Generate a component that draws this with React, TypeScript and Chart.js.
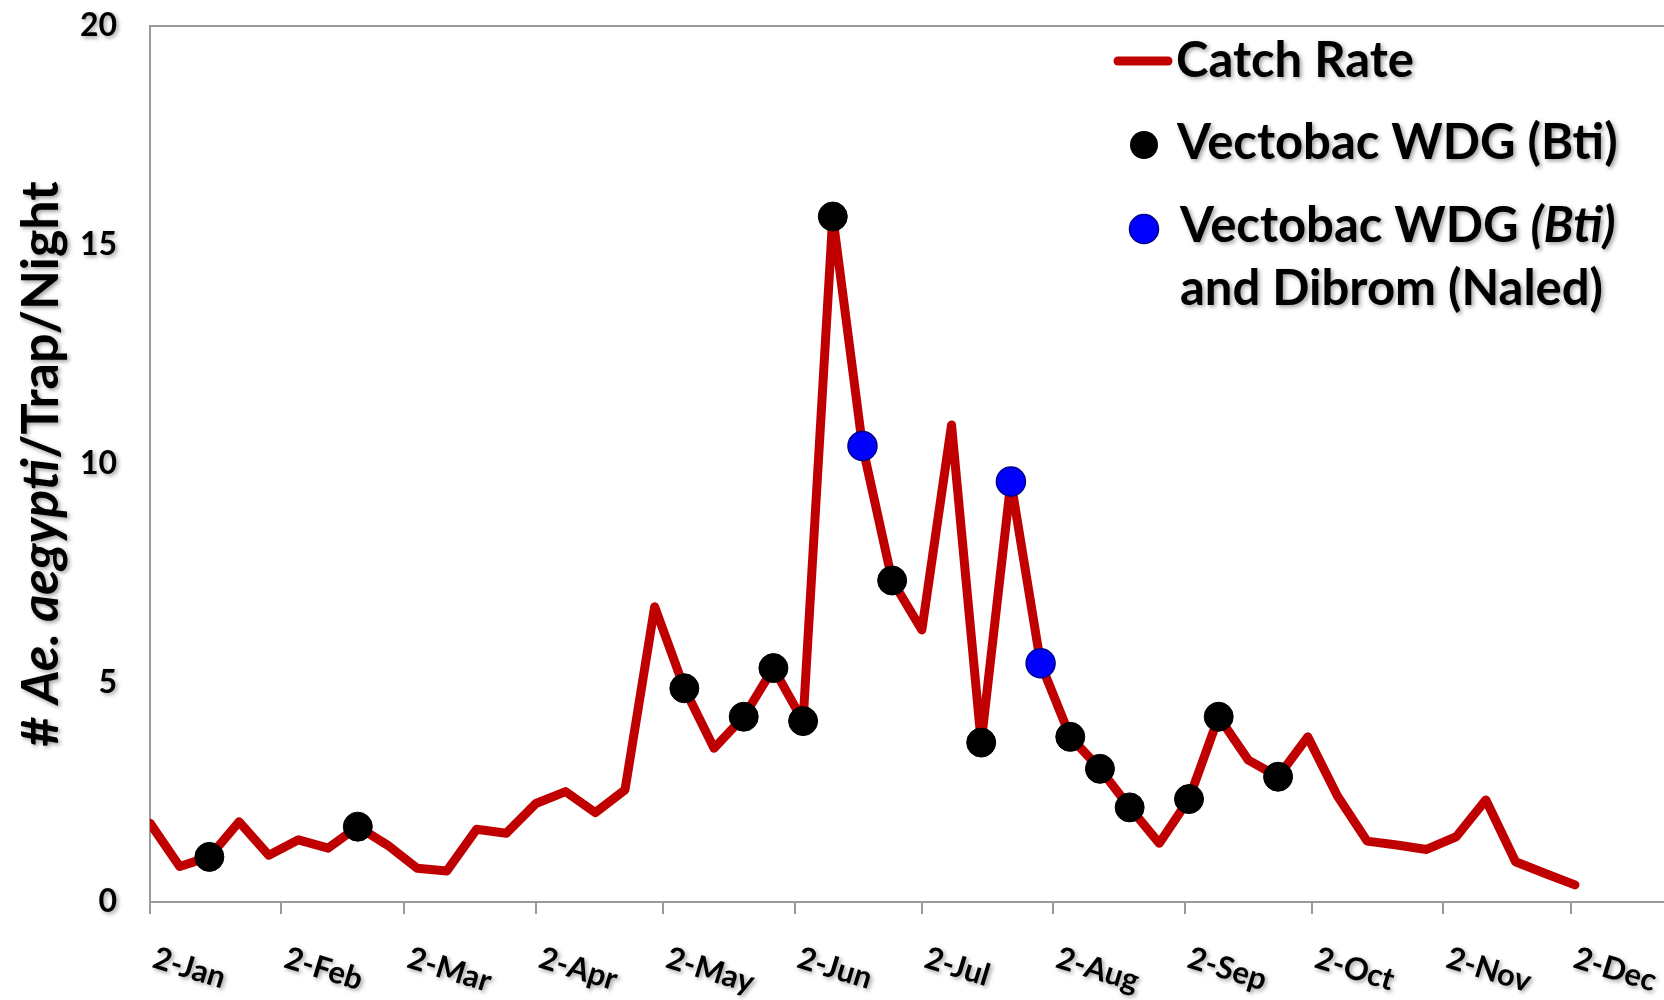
import React, { useEffect, useRef } from 'react';
import { Chart, registerables } from 'chart.js';

Chart.register(...registerables);

// ---------------- data ----------------
const YEAR = 2016;
const axisStartDate = '01-02';
const axisEndDate = '12-24';

const sampleDates = [
  '01-02', '01-09', '01-16', '01-23', '01-30',
  '02-06', '02-13', '02-20', '02-27',
  '03-05', '03-12', '03-19', '03-26',
  '04-02', '04-09', '04-16', '04-23', '04-30',
  '05-07', '05-14', '05-21', '05-28',
  '06-04', '06-11', '06-18', '06-25',
  '07-02', '07-09', '07-16', '07-23', '07-30',
  '08-06', '08-13', '08-20', '08-27',
  '09-03', '09-10', '09-17', '09-24',
  '10-01', '10-08', '10-15', '10-22', '10-29',
  '11-05', '11-12', '11-19', '11-26',
  '12-03',
];

const catchRate = [
  1.80, 0.81, 1.03, 1.83, 1.07,
  1.42, 1.23, 1.72, 1.30,
  0.77, 0.71, 1.66, 1.57,
  2.25, 2.52, 2.04, 2.56, 6.74,
  4.88, 3.51, 4.23, 5.34,
  4.13, 15.65, 10.41, 7.34,
  6.21, 10.89, 3.64, 9.60, 5.45,
  3.77, 3.04, 2.16, 1.34,
  2.35, 4.23, 3.24, 2.86,
  3.77, 2.42, 1.39, 1.30, 1.20,
  1.49, 2.33, 0.92, 0.65,
  0.39,
];

// treatment dates (markers sit on the catch-rate line)
const btiDates = [
  '01-16', '02-20', '05-07', '05-21', '05-28', '06-04', '06-11', '06-25',
  '07-16', '08-06', '08-13', '08-20', '09-03', '09-10', '09-24',
];
const btiNaledDates = ['06-18', '07-23', '07-30'];

const monthTickDates = [
  '01-02', '02-02', '03-02', '04-02', '05-02', '06-02',
  '07-02', '08-02', '09-02', '10-02', '11-02', '12-02',
];
const monthTickLabels = [
  '2-Jan', '2-Feb', '2-Mar', '2-Apr', '2-May', '2-Jun',
  '2-Jul', '2-Aug', '2-Sep', '2-Oct', '2-Nov', '2-Dec',
];

const yMin = 0;
const yMax = 20;
const yStep = 5;

const seriesNames = {
  line: 'Catch Rate',
  bti: 'Vectobac WDG (Bti)',
  both: 'Vectobac WDG (Bti) and Dibrom (Naled)',
};

// ---------------- helpers ----------------
function dayOffset(mmdd: string): number {
  const [m, d] = mmdd.split('-').map(Number);
  const [m0, d0] = axisStartDate.split('-').map(Number);
  return (Date.UTC(YEAR, m - 1, d) - Date.UTC(YEAR, m0 - 1, d0)) / 86400000;
}

function valueAt(mmdd: string): number {
  return catchRate[sampleDates.indexOf(mmdd)];
}

const RED = '#C00000';
const BLUE = '#0000FF';
const AXIS_GRAY = '#9A9A9A';
const FONT = 'Lato';

type Run = { text: string; italic?: boolean };

function runsWidth(ctx: CanvasRenderingContext2D, runs: Run[], size: number) {
  let w = 0;
  for (const r of runs) {
    ctx.font = `${r.italic ? 'italic ' : ''}bold ${size}px ${FONT}`;
    w += ctx.measureText(r.text).width;
  }
  return w;
}

function drawRuns(ctx: CanvasRenderingContext2D, runs: Run[], x: number, y: number, size: number) {
  let cx = x;
  ctx.textAlign = 'left';
  ctx.textBaseline = 'alphabetic';
  for (const r of runs) {
    ctx.font = `${r.italic ? 'italic ' : ''}bold ${size}px ${FONT}`;
    ctx.fillText(r.text, cx, y);
    cx += ctx.measureText(r.text).width;
  }
}

function setShadow(ctx: CanvasRenderingContext2D, on: boolean) {
  if (on) {
    ctx.shadowColor = 'rgba(0,0,0,0.38)';
    ctx.shadowBlur = 4;
    ctx.shadowOffsetX = 2;
    ctx.shadowOffsetY = 2;
  } else {
    ctx.shadowColor = 'rgba(0,0,0,0)';
    ctx.shadowBlur = 0;
    ctx.shadowOffsetX = 0;
    ctx.shadowOffsetY = 0;
  }
}

const decorPlugin = {
  id: 'decor',
  afterDatasetsDraw(chart: any) {
    const ctx = chart.ctx as CanvasRenderingContext2D;
    ctx.save();
    setShadow(ctx, true);
  },
  afterDraw(chart: any) {
    const ctx = chart.ctx as CanvasRenderingContext2D;
    const xs = chart.scales.x;
    const area = chart.chartArea;
    ctx.fillStyle = '#000';

    // x tick labels, slanted downward starting at each tick
    const xFont = 31;
    monthTickDates.forEach((d, i) => {
      const px = xs.getPixelForValue(dayOffset(d));
      ctx.save();
      ctx.translate(px + 1, area.bottom + 65);
      ctx.rotate((17 * Math.PI) / 180);
      ctx.font = `bold ${xFont}px ${FONT}`;
      ctx.textAlign = 'left';
      ctx.textBaseline = 'alphabetic';
      ctx.fillText(monthTickLabels[i], 0, 0);
      ctx.restore();
    });

    // y axis title with italic species name
    const titleRuns: Run[] = [
      { text: '# ' },
      { text: 'Ae. aegypti', italic: true },
      { text: '/Trap/Night' },
    ];
    const tSize = 52;
    const tw = runsWidth(ctx, titleRuns, tSize);
    ctx.save();
    ctx.translate(58, (area.top + area.bottom) / 2);
    ctx.rotate(-Math.PI / 2);
    drawRuns(ctx, titleRuns, -tw / 2, 0, tSize);
    ctx.restore();

    // legend
    const lSize = 49;
    const lx = 1176;
    drawRuns(ctx, [{ text: seriesNames.line }], lx, 77, lSize);
    drawRuns(ctx, [{ text: 'Vectobac WDG (Bti)' }], lx + 1, 159, lSize);
    drawRuns(ctx, [{ text: 'Vectobac WDG ' }, { text: '(Bti)', italic: true }], lx + 4, 242, lSize);
    drawRuns(ctx, [{ text: 'and Dibrom (Naled)' }], lx + 4, 305, lSize);

    setShadow(ctx, false);
    ctx.lineCap = 'round';
    ctx.strokeStyle = RED;
    ctx.lineWidth = 9;
    ctx.beginPath();
    ctx.moveTo(1118, 61);
    ctx.lineTo(1168, 61);
    ctx.stroke();

    ctx.fillStyle = '#000';
    ctx.beginPath();
    ctx.arc(1144, 145, 14, 0, Math.PI * 2);
    ctx.fill();

    ctx.fillStyle = BLUE;
    ctx.strokeStyle = '#00008B';
    ctx.lineWidth = 1.5;
    ctx.beginPath();
    ctx.arc(1144, 229, 14.5, 0, Math.PI * 2);
    ctx.fill();
    ctx.stroke();

    ctx.restore();
  },
};

export default function App() {
  const canvasRef = useRef<HTMLCanvasElement | null>(null);

  useEffect(() => {
    const canvas = canvasRef.current;
    if (!canvas) return;

    const lineData = sampleDates.map((d, i) => ({ x: dayOffset(d), y: catchRate[i] }));
    const btiData = btiDates.map((d) => ({ x: dayOffset(d), y: valueAt(d) }));
    const bothData = btiNaledDates.map((d) => ({ x: dayOffset(d), y: valueAt(d) }));
    const tickDays = monthTickDates.map(dayOffset);

    const chart = new Chart(canvas, {
      type: 'line',
      data: {
        datasets: [
          {
            type: 'scatter',
            label: seriesNames.bti,
            data: btiData,
            backgroundColor: '#000',
            borderColor: '#000',
            borderWidth: 1,
            pointRadius: 14.5,
            order: 0,
          },
          {
            type: 'scatter',
            label: seriesNames.both,
            data: bothData,
            backgroundColor: BLUE,
            borderColor: '#00008B',
            borderWidth: 1.5,
            pointRadius: 14.5,
            order: 0,
          },
          {
            type: 'line',
            label: seriesNames.line,
            data: lineData,
            borderColor: RED,
            backgroundColor: RED,
            borderWidth: 9,
            borderJoinStyle: 'round',
            borderCapStyle: 'round',
            pointRadius: 0,
            tension: 0,
            fill: false,
            order: 5,
          },
        ],
      } as any,
      options: {
        animation: false,
        responsive: false,
        maintainAspectRatio: false,
        layout: { autoPadding: false, padding: { top: 26, left: 0, right: 0, bottom: 0 } },
        plugins: {
          legend: { display: false },
          tooltip: { enabled: false },
        },
        scales: {
          x: {
            type: 'linear',
            min: dayOffset(axisStartDate),
            max: dayOffset(axisEndDate),
            afterBuildTicks: (scale: any) => {
              scale.ticks = tickDays.map((v) => ({ value: v }));
            },
            afterFit: (scale: any) => {
              scale.height = 98;
              scale.paddingLeft = 0;
              scale.paddingRight = 0;
            },
            ticks: { display: false },
            grid: {
              drawOnChartArea: false,
              drawTicks: true,
              tickLength: 12,
              color: AXIS_GRAY,
              lineWidth: 2,
            },
            border: { display: true, color: AXIS_GRAY, width: 2 },
          },
          y: {
            type: 'linear',
            min: yMin,
            max: yMax,
            afterFit: (scale: any) => {
              scale.width = 150;
              scale.paddingTop = 0;
              scale.paddingBottom = 0;
            },
            ticks: {
              stepSize: yStep,
              padding: 33,
              color: '#000',
              z: 1,
              font: { family: FONT, size: 32, weight: 'bold' },
            },
            grid: {
              drawTicks: false,
              lineWidth: 2,
              color: (c: any) => (c.tick && c.tick.value === yMax ? AXIS_GRAY : 'rgba(0,0,0,0)'),
            },
            border: { display: true, color: AXIS_GRAY, width: 2 },
          },
        },
      } as any,
      plugins: [decorPlugin],
    });

    let alive = true;
    if ((document as any).fonts && (document as any).fonts.load) {
      Promise.all([
        (document as any).fonts.load(`bold 30px ${FONT}`),
        (document as any).fonts.load(`italic bold 30px ${FONT}`),
      ]).then(() => {
        if (alive) chart.update();
      }).catch(() => {});
    }

    return () => {
      alive = false;
      chart.destroy();
    };
  }, []);

  return (
    <div style={{ position: 'fixed', left: 0, top: 0, width: 1664, height: 1000, background: '#fff' }}>
      <canvas ref={canvasRef} width={1664} height={1000} style={{ display: 'block' }} />
    </div>
  );
}
